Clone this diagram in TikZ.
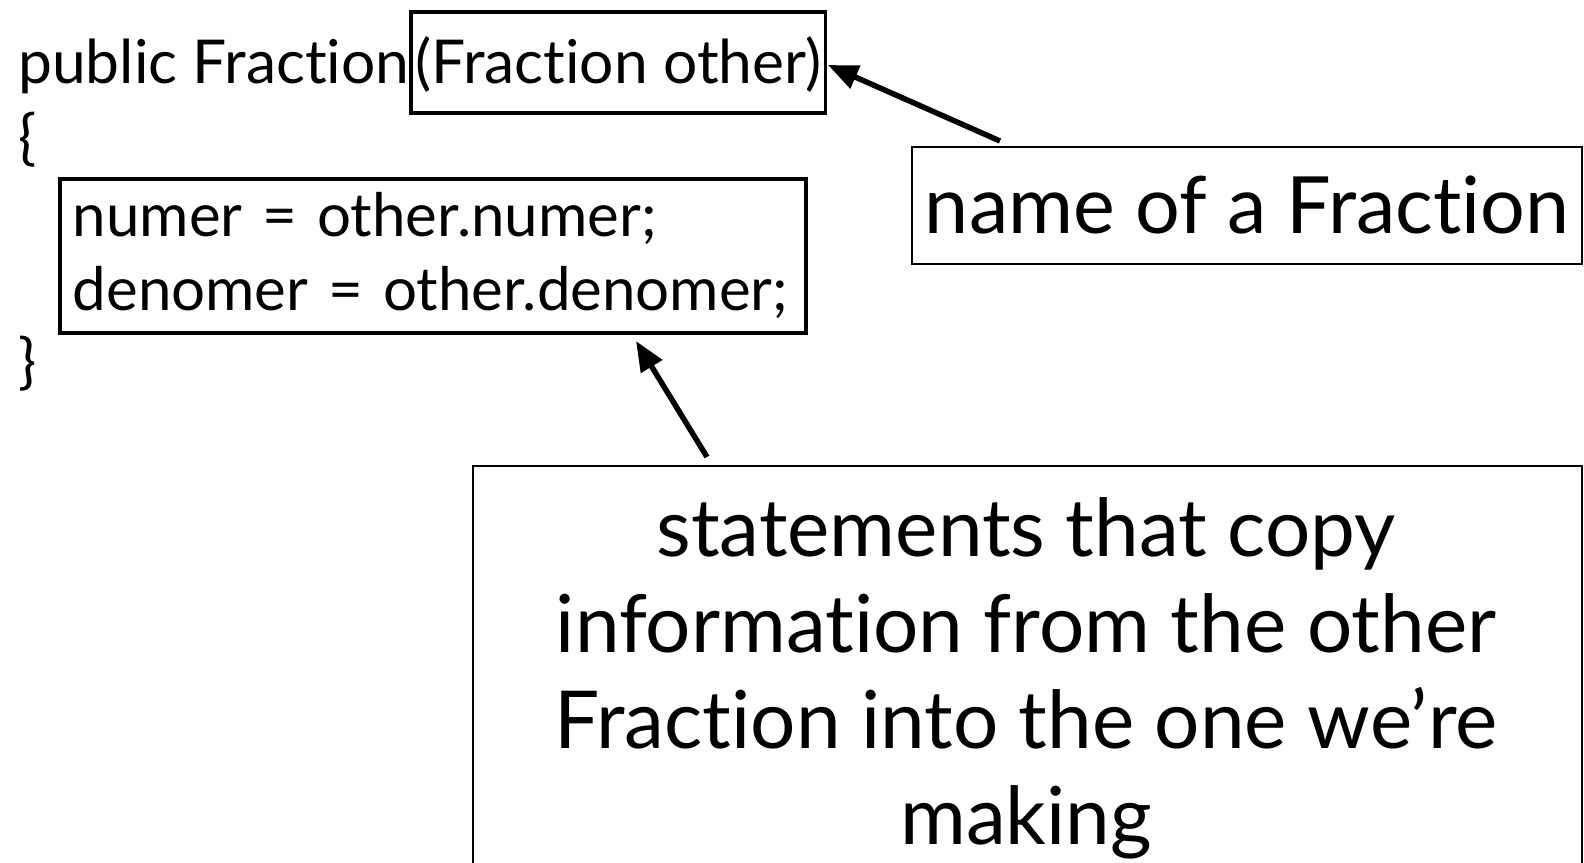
\documentclass[tikz,border=0pt]{standalone}
\usepackage{fontspec}
\setmainfont{Lato}[Ligatures=NoCommon]
\usetikzlibrary{arrows.meta}
\begin{document}
\begin{tikzpicture}[x=1pt,y=-1pt,
  thickbox/.style={draw, line width=3.6pt},
  thinbox/.style={draw, line width=2pt},
  code/.style={font=\fontsize{60.5}{74}\selectfont},
  bodycode/.style={font=\fontsize{60}{74}\selectfont},
  big/.style={font=\fontsize{80}{96}\selectfont},
  pointer/.style={line width=5.5pt, -{Triangle[length=30pt,width=24pt]}}]
\useasboundingbox (0,0) rectangle (1584,862);
\node[code, anchor=base west, inner sep=0] (sig) at (18,83) {public Fraction};
\node[code, thickbox, anchor=base west, inner xsep=4pt, inner ysep=3pt, text height=68pt, text depth=27pt] (param) at (sig.base east) {(Fraction other)};
\node[code, anchor=base west, inner sep=0] (open) at (18,158) {\{};
\node[bodycode, thickbox, anchor=north west, text width=720pt, align=left, inner xsep=13pt, minimum height=154pt] (body) at (58,177) {numer = other.numer;\\ denomer = other.denomer;};
\node[code, anchor=base west, inner sep=0] (close) at (18,382) {\}};
\node[thinbox, minimum width=670pt, minimum height=117pt, font=\fontsize{79}{80}\selectfont] (name) at (1247,205) {name of a Fraction};
\node[thinbox, minimum width=1109pt, minimum height=500pt, anchor=north west] (stmtbox) at (472,465) {};
\node[big, anchor=north, align=center, inner sep=0] (stmt) at (1026,497) {statements that copy\\ information from the other\\ Fraction into the one we’re\\ making};
\coordinate (n1) at (1000,141);
\coordinate (p1) at (828,65);
\draw[pointer] (n1) -- (p1);
\coordinate (s1) at (707,457);
\coordinate (b1) at (636,341);
\draw[pointer] (s1) -- (b1);
\end{tikzpicture}
\end{document}
